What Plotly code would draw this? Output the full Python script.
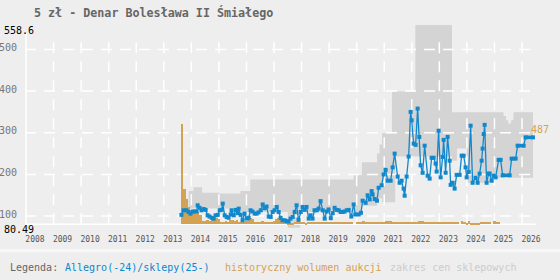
import plotly.graph_objects as go

FONT = "DejaVu Sans Mono"
X_MIN, X_MAX = 2007.964, 2026.508
Y_MIN, Y_MAX = 71.5, 558.6
PRICE_FLOOR = 80.49
GRID_TOP = 533.5

years = list(range(2008, 2027))
year_labels = [str(y) for y in years]
y_ticks = [100, 200, 300, 400, 500]
y_tick_labels = ["100", "200", "300", "400", "500"]

# Allegro auction prices (PLN)
allegro_year = [
    2013.64, 2013.72, 2013.82, 2013.90, 2013.97, 2014.05, 2014.12, 2014.19, 2014.23, 2014.30,
    2014.37, 2014.45, 2014.52, 2014.59, 2014.66, 2014.74, 2014.81, 2014.88, 2014.96, 2015.03,
    2015.10, 2015.14, 2015.21, 2015.28, 2015.35, 2015.43, 2015.46, 2015.54, 2015.61, 2015.68,
    2015.72, 2015.79, 2015.86, 2015.93, 2016.01, 2016.08, 2016.15, 2016.22, 2016.30, 2016.37,
    2016.44, 2016.52, 2016.59, 2016.66, 2016.73, 2016.81, 2016.88, 2016.95, 2017.02, 2017.10,
    2017.17, 2017.24, 2017.31, 2017.39, 2017.46, 2017.53, 2017.60, 2017.68, 2017.75, 2017.82,
    2017.89, 2017.97, 2018.04, 2018.11, 2018.18, 2018.26, 2018.33, 2018.40, 2018.47, 2018.55,
    2018.62, 2018.69, 2018.77, 2018.84, 2018.91, 2018.98, 2019.06, 2019.13, 2019.20, 2019.27,
    2019.35, 2019.42, 2019.49, 2019.56, 2019.64, 2019.71,
    2019.805, 2019.890, 2019.950, 2020.071, 2020.156, 2020.217, 2020.325, 2020.398, 2020.471, 2020.543,
    2020.579, 2020.652, 2020.737, 2020.797, 2020.906, 2020.979, 2021.051, 2021.124, 2021.233, 2021.305,
    2021.378, 2021.487, 2021.559, 2021.632, 2021.704, 2021.741, 2021.813, 2021.886, 2021.958, 2021.995,
    2022.067, 2022.140, 2022.212, 2022.273, 2022.321, 2022.394, 2022.467, 2022.575, 2022.648, 2022.720,
    2022.793, 2022.866, 2022.902, 2022.975, 2023.047, 2023.120, 2023.156, 2023.229, 2023.301, 2023.374,
    2023.410, 2023.483, 2023.555, 2023.628, 2023.737, 2023.809, 2023.882, 2023.954, 2023.991, 2024.063,
    2024.136, 2024.208, 2024.317, 2024.390, 2024.462, 2024.535, 2024.571, 2024.607, 2024.644, 2024.716,
    2024.789, 2024.825, 2024.898, 2024.970, 2025.043,
]
allegro_price = [
    103, 114, 114, 110, 106, 111, 111, 111, 126, 120,
    114, 117, 115, 102, 99, 96, 94, 102, 103, 114,
    115, 130, 102, 98, 96, 104, 114, 102, 115, 107,
    118, 103, 90, 106, 94, 96, 114, 111, 106, 106,
    109, 114, 128, 119, 123, 99, 98, 110, 114, 122,
    110, 96, 90, 90, 88, 87, 94, 98, 110, 126,
    91, 110, 122, 115, 122, 94, 102, 94, 114, 114,
    118, 136, 114, 94, 111, 116, 95, 107, 120, 115,
    114, 110, 110, 111, 114, 115,
    99, 128, 104, 104, 108, 137, 132, 150, 140, 160,
    152, 141, 137, 168, 174, 200, 211, 185, 185, 217,
    250, 195, 180, 185, 166, 149, 195, 243, 350, 330,
    274, 271, 358, 290, 222, 204, 269, 197, 190, 240,
    240, 226, 207, 305, 193, 242, 283, 204, 290, 233,
    175, 180, 166, 199, 199, 245, 245, 217, 193, 206,
    317, 180, 192, 180, 202, 233, 262, 297, 319, 180,
    202, 202, 185, 197, 193,
]

# Shop prices from 2025 (flat price periods)
shop_start = [2025.152, 2025.297, 2025.624, 2025.841, 2026.132]
shop_end = [2025.224, 2025.551, 2025.769, 2026.059, 2026.398]
shop_price = [235, 198, 238, 269, 289]

# Range of shop prices (step)
band_year = [2013.90, 2014.08, 2014.39, 2015.00, 2015.78, 2016.14, 2017.50, 2017.95, 2019.89, 2020.19,
             2020.74, 2020.83, 2020.92, 2021.28, 2021.40, 2022.13, 2023.46, 2023.64, 2024.00, 2024.97,
             2025.33, 2025.42, 2025.50, 2025.60, 2025.69, 2026.40]
band_hi = [160, 169, 156, 154, 160, 188, 188, 188, 198, 229,
           250, 272, 299, 399, 399, 558.6, 349, 349, 349, 349,
           340, 330, 322, 330, 349, 349]
band_lo = [118, 118, 118, 118, 110, 110, 72, 110, 100, 125,
           142, 142, 133, 133, 243, 243, 233, 262, 180, 192,
           192, 192, 192, 192, 192, 192]

# Historical monthly auction volume, starting September 2013
vol_first_year, vol_first_month = 2013, 9
vol_count = [
    100, 35, 25, 17,
    13, 11, 10, 12, 9, 3, 3, 4, 3, 6, 7, 6,
    5, 2, 2, 3, 2, 4, 4, 3, 4, 2, 2, 2,
    3, 6, 6, 5, 2, 2, 2, 3, 2, 2, 2, 2,
    3, 5, 6, 6, 5, 2, 1, 1, 1, 2, 2, 2,
    2, 2, 1, 2, 2, 2, 2, 2, 2, 2, 2, 2,
    2, 2, 2, 2, 2, 2, 2, 2, 2, 2, 2, 0,
    2, 2, 2, 3, 2, 2, 2, 2, 2, 2, 2, 2,
    2, 3, 3, 3, 2, 2, 2, 2, 2, 2, 2, 2,
    2, 2, 2, 3, 3, 3, 2, 2, 2, 2, 2, 2,
    2, 2, 2, 2, 2, 2, 2, 2, 2, 0, 3, 2,
    1, 3, 1, 1, 1, 1, 2, 2, 2, 2, 2, 0,
    3, 2, 2,
]
total_label = "487"

GRID = "#ffffff"
BLUE = "#1188cc"
ORANGE = "#d5a153"
BAND = "#d4d4d4"
BG = "#eeeeee"

fig = go.Figure()

# shop price range band
fig.add_trace(go.Scatter(x=band_year, y=band_lo, mode="lines", line=dict(width=0, shape="hv"),
                         hoverinfo="skip", showlegend=False))
fig.add_trace(go.Scatter(x=band_year, y=band_hi, mode="lines", line=dict(width=0, shape="hv"),
                         fill="tonexty", fillcolor=BAND, hoverinfo="skip", showlegend=False))

# grid (drawn above the band)
hx, hy = [], []
for t in y_ticks:
    hx += [X_MIN, X_MAX, None]
    hy += [t, t, None]
vx, vy = [], []
for yr in years[1:]:
    vx += [yr, yr, None]
    vy += [PRICE_FLOOR, GRID_TOP, None]
fig.add_trace(go.Scatter(x=hx, y=hy, mode="lines", line=dict(color=GRID, width=1.5, dash="11px,8px"),
                         hoverinfo="skip", showlegend=False))
fig.add_trace(go.Scatter(x=vx, y=vy, mode="lines", line=dict(color=GRID, width=1.5, dash="11px,8px"),
                         hoverinfo="skip", showlegend=False))
fig.add_trace(go.Scatter(x=[years[0], years[0], None, X_MIN, X_MAX],
                         y=[PRICE_FLOOR, 538, None, PRICE_FLOOR, PRICE_FLOOR],
                         mode="lines", line=dict(color=GRID, width=1.5),
                         hoverinfo="skip", showlegend=False))

# volume bars (overlay axis y2)
vol_x = [vol_first_year + (vol_first_month - 1 + i) / 12 for i in range(len(vol_count))]
fig.add_trace(go.Bar(x=vol_x, y=vol_count, width=1 / 12, marker=dict(color=ORANGE, line=dict(width=0)),
                     yaxis="y2", showlegend=False, hoverinfo="skip"))

# price line (overlay axis y3)
line_x = list(allegro_year)
line_y = list(allegro_price)
thick_x, thick_y = [], []
for s, e, p in zip(shop_start, shop_end, shop_price):
    line_x += [s, e]
    line_y += [p, p]
    thick_x += [s, e, None]
    thick_y += [p, p, None]
fig.add_trace(go.Scatter(x=line_x, y=line_y, mode="lines+markers",
                         line=dict(color=BLUE, width=1.3),
                         marker=dict(symbol="square", size=4, color=BLUE, line=dict(width=0)),
                         yaxis="y3", showlegend=False))
fig.add_trace(go.Scatter(x=thick_x, y=thick_y, mode="lines", line=dict(color=BLUE, width=3.5),
                         yaxis="y3", showlegend=False, hoverinfo="skip"))

ann = []
ann.append(dict(text="<b>5 zł - Denar Bolesława II Śmiałego</b>", xref="paper", yref="paper",
                x=0, y=1, xanchor="left", yanchor="middle", xshift=8, yshift=12.5,
                showarrow=False, font=dict(family=FONT, size=11.7, color="#666666"), borderpad=0))
ann.append(dict(text=f"{Y_MAX}", xref="paper", yref="y", x=0, y=Y_MAX, xanchor="left",
                yanchor="top", xshift=-22.3, yshift=1, showarrow=False,
                font=dict(family=FONT, size=10, color="#000000"), borderpad=0))
ann.append(dict(text=f"{PRICE_FLOOR}", xref="paper", yref="y", x=0, y=PRICE_FLOOR, xanchor="left",
                yanchor="top", xshift=-22.3, yshift=1, showarrow=False,
                font=dict(family=FONT, size=10, color="#000000"), borderpad=0))
ann.append(dict(text=total_label, xref="paper", yref="y", x=1, y=308, xanchor="left",
                yanchor="middle", xshift=-6, showarrow=False,
                font=dict(family=FONT, size=10, color=ORANGE), borderpad=0))

legend_items = [("Legenda:", "#666666", 9), ("Allegro(-24)/sklepy(25-)", "#0a88d0", 64),
                ("historyczny wolumen aukcji", "#d5a153", 224), ("zakres cen sklepowych", "#cccccc", 389)]
for txt, col, px in legend_items:
    ann.append(dict(text=txt, xref="paper", yref="paper", x=0, y=0, xanchor="left", yanchor="middle",
                    xshift=px - 25, yshift=-(267 - 228), showarrow=False, borderpad=0,
                    font=dict(family=FONT, size=10, color=col)))

fig.update_layout(
    width=560, height=280,
    margin=dict(l=25, r=24, t=25, b=52, autoexpand=False),
    paper_bgcolor=BG, plot_bgcolor=BG,
    showlegend=False,
    annotations=ann,
    xaxis=dict(range=[X_MIN, X_MAX], tickvals=years, ticktext=year_labels, showgrid=False,
               zeroline=False, showline=False, ticks="", ticklabelshift=9, ticklabelstandoff=5,
               automargin=False,
               tickfont=dict(family=FONT, size=8, color="#555555")),
    yaxis=dict(range=[Y_MIN, Y_MAX], tickvals=y_ticks, ticktext=y_tick_labels, showgrid=False,
               zeroline=False, showline=False, ticks="", ticklabelshift=-2, ticklabelstandoff=7,
               automargin=False,
               tickfont=dict(family=FONT, size=10, color="#777777")),
    yaxis2=dict(range=[-3.7, 199.3], overlaying="y", visible=False, automargin=False),
    yaxis3=dict(range=[Y_MIN, Y_MAX], overlaying="y", visible=False, automargin=False),
    shapes=[dict(type="line", xref="paper", yref="paper", x0=-0.1, x1=1.1,
                 y0=-(250.7 - 228) / 203, y1=-(250.7 - 228) / 203,
                 line=dict(color="#f8f8f8", width=3))],
    bargap=0,
)

fig.write_html("out.html")
